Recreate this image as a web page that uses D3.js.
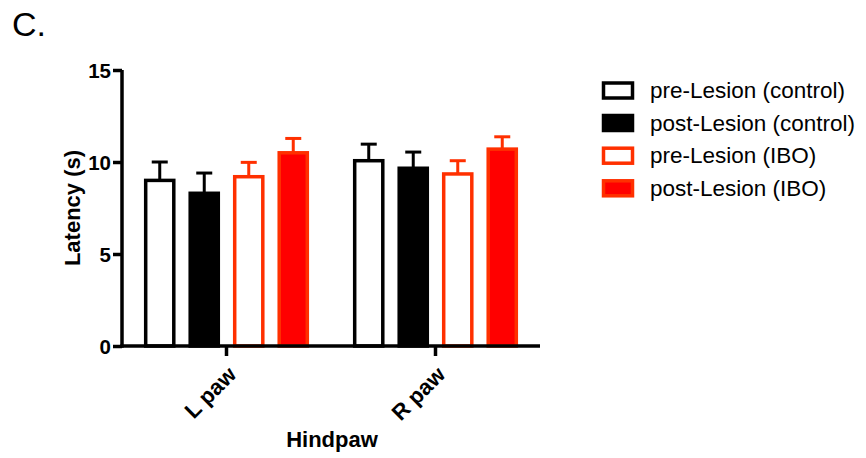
<!DOCTYPE html>
<html><head><meta charset="utf-8">
<script src="https://cdn.jsdelivr.net/npm/d3@7"></script>
<style>body{margin:0;background:#fff}svg{display:block;font-family:"Liberation Sans",Arial,sans-serif}</style>
</head><body><svg id="c" width="866" height="458"></svg>
<script>
const categories = ["L paw", "R paw"];
const seriesNames = ["pre-Lesion (control)", "post-Lesion (control)", "pre-Lesion (IBO)", "post-Lesion (IBO)"];
const meanValues = [
  [9.0, 10.07],
  [8.3, 9.66],
  [9.2, 9.35],
  [10.5, 10.7]
];
const semValues = [
  [1.0, 0.9],
  [1.1, 0.88],
  [0.78, 0.72],
  [0.78, 0.67]
];
const yTicks = [0, 5, 10, 15];

const strokeCols = ["#000", "#000", "#ff3000", "#ff3000"];
const fillCols = ["#fff", "#000", "#fff", "#ff0000"];

const svg = d3.select("#c");
const x0 = d3.scaleBand().domain(categories).range([122, 540]).paddingInner(0.21).paddingOuter(0.105);
const x1 = d3.scaleBand().domain(d3.range(seriesNames.length)).range([0, x0.bandwidth()]).paddingInner(0.29);
const y = d3.scaleLinear().domain([0, 15]).range([346, 70]);

svg.append("text").attr("x", 12).attr("y", 36).attr("font-size", 34).text("C.");

const sw = 3.5;
seriesNames.forEach((s, i) => {
  const g = svg.append("g");
  categories.forEach((c, j) => {
    const v = meanValues[i][j], e = semValues[i][j];
    const bx = x0(c) + x1(i);
    const cx = bx + x1.bandwidth() / 2;
    g.append("line").attr("x1", cx).attr("x2", cx).attr("y1", y(v)).attr("y2", y(v + e))
      .attr("stroke", strokeCols[i]).attr("stroke-width", 3);
    g.append("line").attr("x1", cx - 8).attr("x2", cx + 8).attr("y1", y(v + e)).attr("y2", y(v + e))
      .attr("stroke", strokeCols[i]).attr("stroke-width", 3);
    g.append("rect").attr("x", bx + sw / 2).attr("width", x1.bandwidth() - sw)
      .attr("y", y(v)).attr("height", y(0) - y(v))
      .attr("fill", fillCols[i]).attr("stroke", strokeCols[i]).attr("stroke-width", sw);
  });
});

// y axis
const ya = svg.append("g").attr("transform", "translate(122,0)")
  .call(d3.axisLeft(y).tickValues(yTicks).tickSize(9).tickPadding(2).tickFormat(d3.format("d")));
ya.select(".domain").attr("stroke-width", 3.5).attr("d", `M0,${y(15)}V${y(0) + 1.75}`);
ya.selectAll(".tick line").attr("stroke-width", 3.5);
ya.selectAll(".tick text").attr("font-size", 20.5).attr("font-weight", "bold").attr("fill", "#000")
  .attr("font-family", "Liberation Sans, Arial, sans-serif").attr("dy", "0.36em");

// x axis
const xa = svg.append("g").attr("transform", "translate(0,346)")
  .call(d3.axisBottom(x0).tickSize(10).tickSizeOuter(0));
xa.select(".domain").attr("stroke-width", 3.5).attr("d", "M120.25,0H540");
xa.selectAll(".tick line").attr("stroke-width", 3.5);
xa.selectAll(".tick text").attr("font-size", 22).attr("font-weight", "bold").attr("fill", "#000")
  .attr("font-family", "Liberation Sans, Arial, sans-serif")
  .attr("text-anchor", "end").attr("y", 0).attr("dy", 0)
  .attr("transform", "translate(11,30) rotate(-45)");

svg.append("text").attr("transform", "translate(80,208) rotate(-90)").attr("text-anchor", "middle")
  .attr("font-size", 22).attr("font-weight", "bold").text("Latency (s)");
svg.append("text").attr("x", 332).attr("y", 447).attr("text-anchor", "middle")
  .attr("font-size", 22).attr("font-weight", "bold").text("Hindpaw");

// legend
const rowY = [90.5, 123, 155.7, 188.3];
seriesNames.forEach((s, i) => {
  svg.append("rect").attr("x", 603.5).attr("y", rowY[i] - 7.5).attr("width", 29).attr("height", 15)
    .attr("fill", fillCols[i]).attr("stroke", strokeCols[i]).attr("stroke-width", 3.5);
  svg.append("text").attr("x", 650).attr("y", rowY[i] + 7.5).attr("font-size", 22.5).text(s);
});
</script></body></html>
